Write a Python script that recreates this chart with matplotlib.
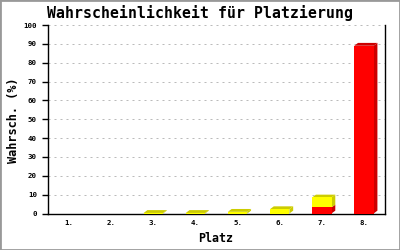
import numpy as np
import matplotlib
matplotlib.use("Agg")
import matplotlib.pyplot as plt
from matplotlib.patches import Rectangle

# data
places = ["1.", "2.", "3.", "4.", "5.", "6.", "7.", "8."]
red_vals = [0, 0, 0, 0, 0, 0, 3.2, 89]
yellow_vals = [0, 0, 0.3, 0.3, 0.9, 2.3, 5.3, 0]
y_ticks = list(range(0, 101, 10))

RED, RED_DARK = "#FF0000", "#CC0000"
YEL, YEL_DARK = "#FFFF00", "#CCCC00"
MONO = ["DejaVu Sans Mono"]

fig = plt.figure(figsize=(4, 2.5), dpi=100)
ax = fig.add_axes([0.12, 0.146, 0.8425, 0.754])

x = np.arange(len(places))
w = 0.46
dx, dy = 0.09, 1.5  # fake 3d depth

def draw_3d(xc, y0, y1, face, dark, top):
    xr = xc + w / 2
    ax.fill([xr, xr + dx, xr + dx, xr], [y0, y0 + dy, y1 + dy, y1],
            color=dark, lw=0, zorder=2)
    if top:
        xl = xc - w / 2
        ax.fill([xl, xl + dx, xr + dx, xr], [y1, y1 + dy, y1 + dy, y1],
                color=dark, lw=0, zorder=2)

for i in range(len(places)):
    r, yv = red_vals[i], yellow_vals[i]
    if r > 0:
        draw_3d(x[i], 0, r, RED, RED_DARK, top=(yv == 0))
    if yv > 0:
        draw_3d(x[i], r, r + yv, YEL, YEL_DARK, top=True)

ax.bar(x, red_vals, width=w, color=RED, zorder=3)
ax.bar(x, yellow_vals, width=w, bottom=red_vals, color=YEL, zorder=3)

ax.set_xlim(-0.5, len(places) - 0.5)
ax.set_ylim(0, 100)
ax.set_yticks(y_ticks)
ax.set_xticks(x)
ax.set_xticklabels(places)
ax.yaxis.grid(True, color="#BBBBBB", linestyle=(0, (2, 4)), linewidth=0.72)
ax.set_axisbelow(True)

for s in ["left", "right", "bottom"]:
    ax.spines[s].set_linewidth(1.0)
ax.spines["top"].set_visible(False)

ax.tick_params(axis="y", length=4, width=1.0, pad=4, labelsize=5.3)
ax.tick_params(axis="x", length=0, pad=5, labelsize=5.3)
for lab in ax.get_xticklabels() + ax.get_yticklabels():
    lab.set_family(MONO)
    lab.set_fontweight("bold")

fig.text(0.5, 0.948, "Wahrscheinlichkeit für Platzierung", ha="center",
         va="center", family=MONO, fontweight="bold", fontsize=10.7)
fig.text(0.033, 0.52, "Wahrsch. (%)", rotation=90, ha="center", va="center",
         family=MONO, fontweight="bold", fontsize=8.6)
fig.text(0.54, 0.044, "Platz", ha="center", va="center",
         family=MONO, fontweight="bold", fontsize=8.4)

fig.patches.append(Rectangle((0, 0), 1, 1, transform=fig.transFigure,
                             fill=False, ec="#999999", lw=2))

fig.savefig("out.png", dpi=100)
